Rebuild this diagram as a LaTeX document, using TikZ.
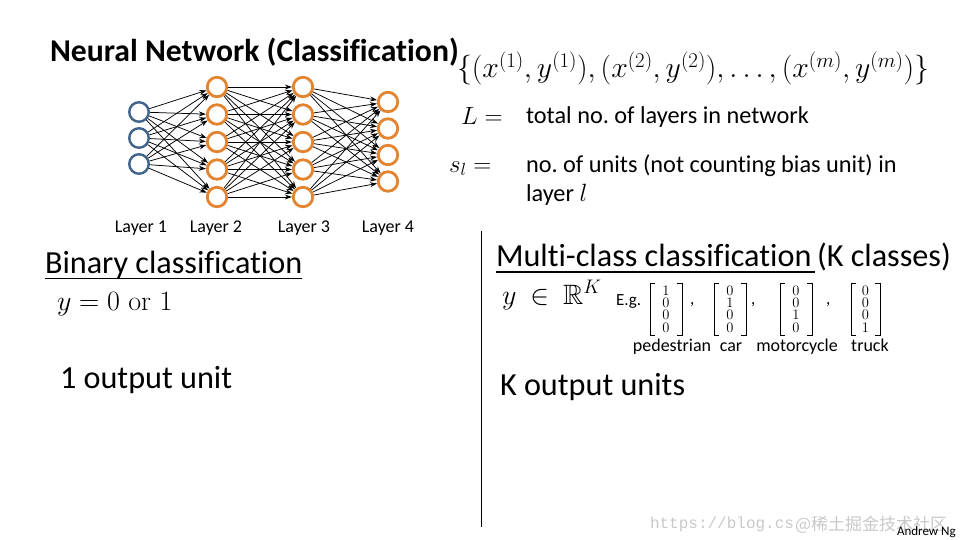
\documentclass[tikz,border=0pt]{standalone}
\usepackage{fix-cm}
\usepackage{amssymb}
\usepackage[no-math]{fontspec}
\newfontfamily\calib[Ligatures=NoCommon]{Carlito}
\newfontfamily\wmono{Liberation Mono}
\newfontfamily\cjkfont{Noto Sans CJK SC}
\usetikzlibrary{arrows.meta}
\definecolor{nnblue}{RGB}{65,100,140}
\definecolor{nnorange}{RGB}{226,132,48}
\definecolor{wmgrey}{RGB}{200,200,200}
\begin{document}
\frenchspacing
\begin{tikzpicture}[x=1pt,y=-1pt,
  every node/.style={inner sep=0pt, outer sep=0pt},
  inunit/.style={circle, draw=nnblue, line width=2.4pt, minimum size=19.5pt, fill=white, outer sep=1.2pt},
  hidunit/.style={circle, draw=nnorange, line width=2.8pt, minimum size=19.5pt, fill=white, outer sep=1.4pt},
  conn/.style={line width=0.75pt, -{Stealth[length=7pt,width=5pt]}},
  bigtxt/.style={font=\calib\fontsize{32.2}{38}\selectfont, anchor=base west},
  titletxt/.style={font=\calib\bfseries\fontsize{31.7}{38}\selectfont, anchor=base west},
  midtxt/.style={font=\calib\fontsize{24.3}{29}\selectfont, anchor=base west},
  smalltxt/.style={font=\calib\fontsize{18}{22}\selectfont, anchor=base},
  egtxt/.style={font=\calib\fontsize{17}{20}\selectfont, anchor=base west},
  mathtxt/.style={font=\fontsize{28}{33}\selectfont, anchor=base west},
  digits/.style={font=\fontsize{14.5}{12.3}\selectfont, align=center, anchor=center},
  bracket/.style={line width=0.8pt},
  uline/.style={line width=1.8pt},
  wm/.style={text=wmgrey, anchor=base west}
]
\useasboundingbox (0,0) rectangle (960,540);

% title
\node[titletxt] (title) at (50,62) {Neural Network (Classification)};

% network units
\node[inunit] (a1) at (139,112) {};
\node[inunit] (a2) at (139,138) {};
\node[inunit] (a3) at (139,164) {};
\foreach \k/\yy in {1/87,2/114.5,3/142,4/169.5,5/197} {
  \node[hidunit] (b\k) at (217,\yy) {};
  \node[hidunit] (c\k) at (303,\yy) {};
}
\foreach \k/\yy in {1/102,2/128.5,3/155,4/181.5} {
  \node[hidunit] (d\k) at (388,\yy) {};
}
\foreach \i in {1,2,3} \foreach \j in {1,...,5} \draw[conn] (a\i) -- (b\j);
\foreach \i in {1,...,5} \foreach \j in {1,...,5} \draw[conn] (b\i) -- (c\j);
\foreach \i in {1,...,5} \foreach \j in {1,...,4} \draw[conn] (c\i) -- (d\j);

\node[smalltxt] (l1) at (141,232) {Layer 1};
\node[smalltxt] (l2) at (216,232) {Layer 2};
\node[smalltxt] (l3) at (304,232) {Layer 3};
\node[smalltxt] (l4) at (388,232) {Layer 4};

% training set and notation
\node[mathtxt, font=\fontsize{29.8}{35}\selectfont] (set) at (457,78)
  {$\{(x^{(1)},y^{(1)}),(x^{(2)},y^{(2)}),\ldots,(x^{(m)},y^{(m)})\}$};
\node[mathtxt, font=\fontsize{25}{30}\selectfont] (Leq) at (461,125) {$L =$};
\node[midtxt] (tot) at (526,124) {total no. of layers in network};
\node[mathtxt, font=\fontsize{25}{30}\selectfont] (sleq) at (449,172) {$s_l =$};
\node[midtxt] (units) at (526,172) {no. of units (not counting bias unit) in};
\node[midtxt] (layl) at (526,201) {layer {\fontsize{25}{30}\selectfont$l$}};

% binary classification
\node[bigtxt] (bin) at (45,273) {Binary classification};
\draw[uline] ([yshift=-5.5pt]bin.base west) -- ([yshift=-5.5pt]bin.base east);
\node[mathtxt] (yor) at (57,310) {$y = 0 \mbox{ or } 1$};
\node[bigtxt] (one) at (60,388) {1 output unit};

% divider
\coordinate (vtop) at (481,231);
\coordinate (vbot) at (481,527);
\draw[line width=0.9pt] (vtop) -- (vbot);

% multi-class
\node[bigtxt] (mc) at (496,266.5) {Multi-class classification};
\node[bigtxt] (kc) at (817,266.5) {(K classes)};
\draw[uline] ([yshift=-5.5pt]mc.base west) -- ([yshift=-5.5pt,xshift=-2pt]kc.base west);
\node[mathtxt] (yR) at (502,304) {$y\mkern4mu\in\mkern4mu\mathbb{R}^{K}$};
\node[egtxt] (eg) at (616,305) {E.g.};

% one-hot vectors
\foreach \n/\l/\r/\da/\db/\dc/\dd in {1/650/682/1/0/0/0, 2/714/746/0/1/0/0, 3/780/812/0/0/1/0, 4/851/880/0/0/0/1} {
  \coordinate (v\n lt) at (\l,283);
  \coordinate (v\n lb) at (\l,335);
  \coordinate (v\n rt) at (\r,283);
  \coordinate (v\n rb) at (\r,335);
  \draw[bracket] ([xshift=5pt]v\n lt) -- (v\n lt) -- (v\n lb) -- ([xshift=5pt]v\n lb);
  \draw[bracket] ([xshift=-5pt]v\n rt) -- (v\n rt) -- (v\n rb) -- ([xshift=-5pt]v\n rb);
  \node[digits] (v\n) at ({(\l+\r)/2},309) {$\da$\\$\db$\\$\dc$\\$\dd$};
}
\node[egtxt] (cm1) at (690,304) {,};
\node[egtxt] (cm2) at (751,304) {,};
\node[egtxt] (cm3) at (826,304) {,};

\node[smalltxt] (ped) at (672,351) {pedestrian};
\node[smalltxt] (car) at (731,351) {car};
\node[smalltxt] (moto) at (797,351) {motorcycle};
\node[smalltxt] (truck) at (870,351) {truck};

\node[bigtxt] (kout) at (500,395) {K output units};

% watermark and credit
\node[wm, font=\wmono\fontsize{16}{18}\selectfont] (wm1) at (650,528) {https://blog.cs};
\node[wm, font=\cjkfont\fontsize{17}{20}\selectfont] (wm2) at (795,530) {@稀土掘金技术社区};
\node[font=\calib\fontsize{13}{15}\selectfont, anchor=base west] (ng) at (897,535) {Andrew Ng};
\end{tikzpicture}
\end{document}
